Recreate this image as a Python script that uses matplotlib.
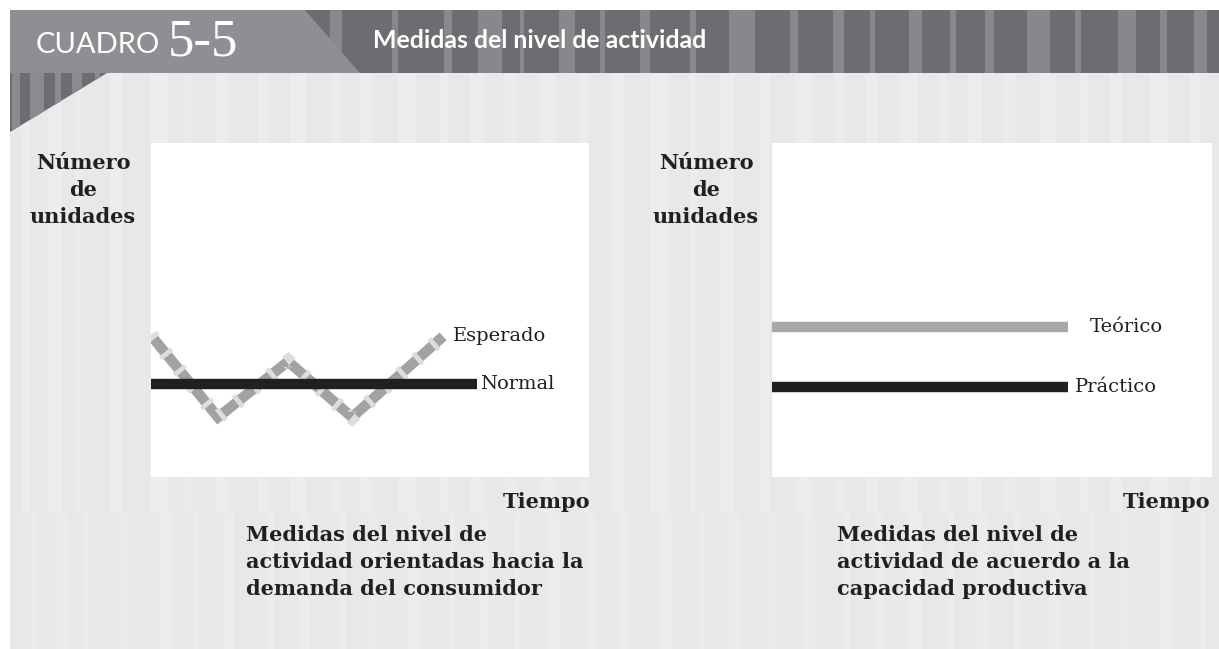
import numpy as np
import matplotlib as mpl
from matplotlib import pyplot as plt
from matplotlib.patches import Rectangle, Polygon

mpl.rcParams['lines.scale_dashes'] = False

# Data (time on x, number of units on y)
esperado_t = [0, 1.53, 3.13, 4.59, 6.67]
esperado_u = [4.24, 1.79, 3.46, 1.79, 4.21]
normal_t = [0, 7.45]
normal_u = [2.78, 2.78]
teorico_t = [0, 6.73]
teorico_u = [4.49, 4.49]
practico_t = [0, 6.73]
practico_u = [2.69, 2.69]

title_txt = 'Medidas del nivel de actividad'
ylabel_txt = 'Número\nde\nunidades'
xlabel_txt = 'Tiempo'
caption_left = 'Medidas del nivel de\nactividad orientadas hacia la\ndemanda del consumidor'
caption_right = 'Medidas del nivel de\nactividad de acuerdo a la\ncapacidad productiva'

W, H = 1219, 649
fig = plt.figure(figsize=(W / 100, H / 100), dpi=100)
fig.patch.set_facecolor('white')

# background axes in pixel coords
bg = fig.add_axes([0, 0, 1, 1])
bg.set_xlim(0, W)
bg.set_ylim(H, 0)
bg.axis('off')

# body
bg.add_patch(Rectangle((10, 73), W - 10, H - 73, color='#e7e8e9', lw=0))
body_stripes = [(22, 8), (48, 14), (75, 6), (110, 12), (150, 18), (185, 7), (215, 14), (258, 10),
                (290, 16), (332, 7), (360, 12), (398, 18), (440, 8), (470, 14), (505, 10), (540, 16),
                (580, 8), (612, 12), (650, 18), (690, 7), (720, 14), (760, 10), (795, 16), (835, 8),
                (866, 12), (900, 18), (940, 7), (968, 14), (1005, 10), (1040, 16), (1080, 8),
                (1110, 12), (1150, 18), (1190, 10)]
for sx, sw in body_stripes:
    bg.add_patch(Rectangle((sx, 73), sw, 440, color='#ebeced', lw=0))
    bg.add_patch(Rectangle((sx + 9, 513), sw * 0.7, H - 513, color='#ebeced', lw=0))

# header band
bg.add_patch(Rectangle((10, 10), W - 10, 63, color='#6c6d71', lw=0))
head_stripes = [(330, 12), (392, 6), (444, 8), (478, 24), (520, 4), (559, 16), (600, 5), (640, 10),
                (690, 6), (729, 26), (790, 8), (833, 11), (870, 5), (909, 13), (950, 6), (985, 9),
                (1027, 23), (1075, 6), (1118, 18), (1160, 7), (1194, 13)]
for sx, sw in head_stripes:
    bg.add_patch(Rectangle((sx, 10), sw, 63, color='#87888b', lw=0))
bg.add_patch(Polygon([(10, 10), (305, 10), (360, 73), (10, 73)], closed=True, color='#8e8f92', lw=0))

# small striped triangle below the header
tri = Polygon([(10, 73), (107, 73), (10, 132)], closed=True, color='#6c6d71', lw=0)
bg.add_patch(tri)
for sx, sw in [(12, 8), (30, 14), (55, 6), (72, 10), (95, 5)]:
    r = Rectangle((sx, 73), sw, 60, color='#8a8b8e', lw=0)
    bg.add_patch(r)
    r.set_clip_path(tri)

bg.text(36, 45, 'CUADRO', color='white', fontsize=21, family='Lato',
        ha='left', va='center')
bg.text(168, 42, '5-5', color='white', fontsize=38, family='Liberation Serif',
        ha='left', va='center')
bg.text(373, 41, title_txt, color='white', fontsize=17.9, family='Lato', weight='bold',
        ha='left', va='center')

serif = 'DejaVu Serif'


def panel(x0, x1):
    ax = fig.add_axes([x0 / W, 1 - 477 / H, (x1 - x0) / W, (477 - 143) / H])
    ax.set_facecolor('white')
    ax.set_xlim(0, 10)
    ax.set_ylim(0, 10)
    for s in ax.spines.values():
        s.set_visible(False)
    ax.set_xticks([])
    ax.set_yticks([])
    return ax


# left panel: demand oriented
ax1 = panel(151, 589)
ax1.plot(esperado_t, esperado_u, color='#a1a2a4', lw=7.5, solid_joinstyle='miter',
         solid_capstyle='butt')
ax1.plot(esperado_t, esperado_u, color='#dcdddf', lw=10.5, dashes=(3.5, 12),
         dash_capstyle='butt', dash_joinstyle='miter')
ax1.plot(normal_t, normal_u, color='#231f20', lw=7.5, solid_capstyle='butt')
ax1.text(6.9, esperado_u[-1], 'Esperado', fontsize=14, family=serif, color='#231f20',
         ha='left', va='center', clip_on=False)
ax1.text(7.52, normal_u[-1], 'Normal', fontsize=14, family=serif, color='#231f20',
         ha='left', va='center', clip_on=False)

# right panel: capacity oriented
ax2 = panel(772, 1212)
ax2.plot(teorico_t, teorico_u, color='#a7a8aa', lw=7.5, solid_capstyle='butt')
ax2.plot(practico_t, practico_u, color='#231f20', lw=7.5, solid_capstyle='butt')
ax2.text(7.23, teorico_u[-1], 'Teórico', fontsize=14, family=serif, color='#231f20',
         ha='left', va='center', clip_on=False)
ax2.text(6.89, practico_u[-1], 'Práctico', fontsize=14, family=serif, color='#231f20',
         ha='left', va='center', clip_on=False)

# axis titles and captions
for cx in [83, 706]:
    bg.text(cx, 190, ylabel_txt, fontsize=15, family=serif, weight='bold', color='#231f20',
            ha='center', va='center', linespacing=1.42)
for rx in [590, 1210]:
    bg.text(rx, 502, xlabel_txt, fontsize=15, family=serif, weight='bold', color='#231f20',
            ha='right', va='center')
bg.text(246, 562, caption_left, fontsize=15, family=serif, weight='bold', color='#231f20',
        ha='left', va='center', linespacing=1.45)
bg.text(837, 562, caption_right, fontsize=15, family=serif, weight='bold', color='#231f20',
        ha='left', va='center', linespacing=1.45)

plt.savefig('out.png', dpi=100)
